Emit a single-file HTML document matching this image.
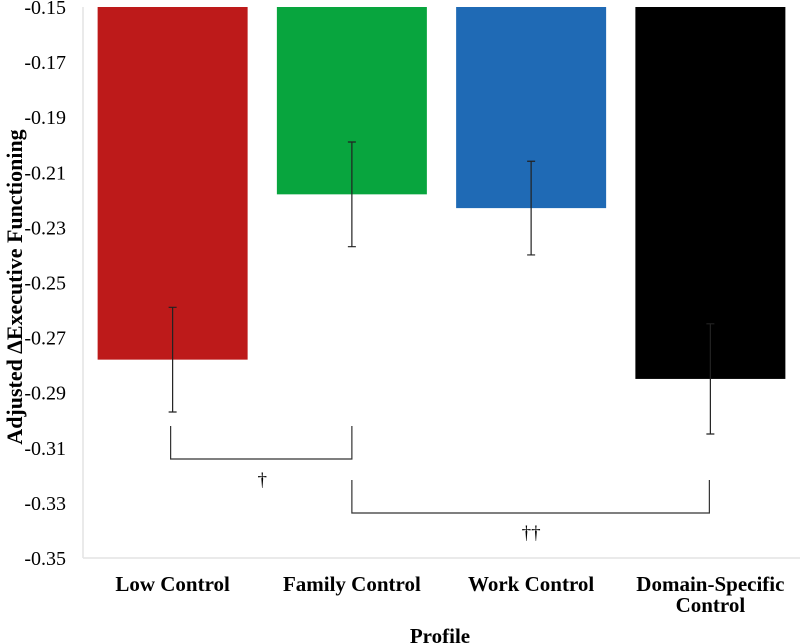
<!DOCTYPE html>
<html><head><meta charset="utf-8"><style>
body{margin:0;background:#fff}
svg{display:block;font-family:"Liberation Serif",serif}
</style></head><body>
<svg id="chart" width="800" height="644" viewBox="0 0 800 644"></svg>
<script>
const categories=["Low Control","Family Control","Work Control","Domain-Specific Control"];
const values=[-0.278,-0.218,-0.223,-0.285];
const errors=[0.019,0.019,0.017,0.020];
const colors=["#bd1a1a","#08a53e","#1f6ab5","#000000"];
const ticks=[-0.15,-0.17,-0.19,-0.21,-0.23,-0.25,-0.27,-0.29,-0.31,-0.33,-0.35];
const yMax=-0.15,yMin=-0.35,plotTop=7,plotBot=558,plotLeft=83,plotRight=800;
const y=v=>plotTop+(yMax-v)/(yMax-yMin)*(plotBot-plotTop);
const band=(plotRight-plotLeft)/categories.length;
const xc=i=>plotLeft+band*(i+0.5);
const svg=document.getElementById('chart');
const NS="http://www.w3.org/2000/svg";
function mk(t,a,txt){const e=document.createElementNS(NS,t);for(const k in a)e.setAttribute(k,a[k]);if(txt!==undefined)e.textContent=txt;svg.appendChild(e);return e;}
let e;
e=mk('line',{x1:plotLeft,y1:plotTop,x2:plotLeft,y2:plotBot,stroke:'#e4e4e4','stroke-width':1.5});


e=mk('line',{x1:plotLeft,y1:plotBot,x2:plotRight,y2:plotBot,stroke:'#e4e4e4','stroke-width':1.5});


ticks.forEach(t=>{
 e=mk('text',{x:66,y:y(t)+7,'text-anchor':'end','font-size':20},t.toFixed(2));
 
 
});
categories.forEach((c,i)=>{
 const cx=xc(i),w=150;
 e=mk('rect',{x:cx-w/2,y:y(yMax),width:w,height:y(values[i])-y(yMax),fill:colors[i]});
 
 
 const y1=y(values[i]+errors[i]),y2=y(values[i]-errors[i]);
 e=mk('path',{d:`M${cx} ${y1}V${y2}M${cx-4} ${y1}H${cx+4}M${cx-4} ${y2}H${cx+4}`,stroke:'#222','stroke-width':1.2,fill:'none'});
 
 
 const parts=c==="Domain-Specific Control"?["Domain-Specific","Control"]:[c];
 parts.forEach((p,j)=>{
  e=mk('text',{x:cx,y:591+j*21,'text-anchor':'middle','font-size':21,'font-weight':'bold'},p);
  
  
 });
});
e=mk('path',{d:`M${xc(0)-2} 426V459H${xc(1)}V426`,stroke:'#333','stroke-width':1.2,fill:'none'});


e=mk('text',{x:(xc(0)+xc(1))/2,y:486,'text-anchor':'middle','font-size':19},'†');


e=mk('path',{d:`M${xc(1)} 480V513H${xc(3)-1}V480`,stroke:'#333','stroke-width':1.2,fill:'none'});


e=mk('text',{x:(xc(1)+xc(3))/2,y:539,'text-anchor':'middle','font-size':19},'††');


e=mk('text',{x:440,y:643,'text-anchor':'middle','font-size':21,'font-weight':'bold'},'Profile');


e=mk('text',{x:0,y:0,'text-anchor':'middle','font-size':22,'font-weight':'bold',transform:'translate(22,287) rotate(-90)'},'Adjusted ∆Executive Functioning');


</script>
</body></html>
